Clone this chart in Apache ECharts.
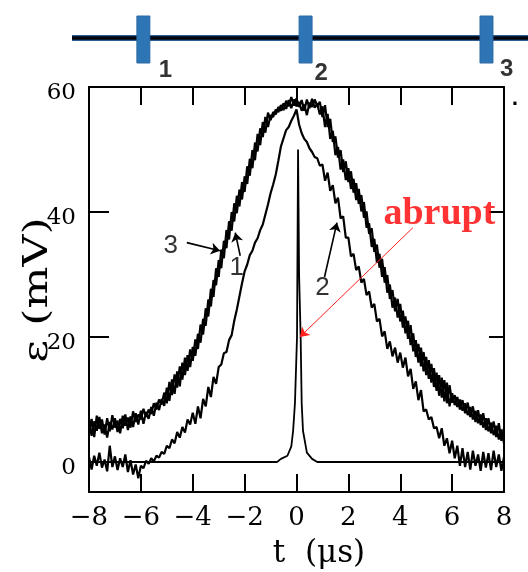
<!DOCTYPE html>
<html>
<head>
<meta charset="utf-8">
<script src="https://cdn.jsdelivr.net/npm/echarts@6.0.0/dist/echarts.min.js"></script>
<style>html,body{margin:0;padding:0;background:#fff;}#c{width:528px;height:572px;}</style>
</head>
<body>
<div id="c"></div>
<script>
// ---- data ----
const tValues = [-8,-7.9,-7.8,-7.7,-7.6,-7.5,-7.4,-7.3,-7.2,-7.1,
-7,-6.9,-6.8,-6.7,-6.6,-6.5,-6.4,-6.3,-6.2,-6.1,
-6,-5.9,-5.8,-5.7,-5.6,-5.5,-5.4,-5.3,-5.2,-5.1,
-5,-4.9,-4.8,-4.7,-4.6,-4.5,-4.4,-4.3,-4.2,-4.1,
-4,-3.9,-3.8,-3.7,-3.6,-3.5,-3.4,-3.3,-3.2,-3.1,
-3,-2.9,-2.8,-2.7,-2.6,-2.5,-2.4,-2.3,-2.2,-2.1,
-2,-1.9,-1.8,-1.7,-1.6,-1.5,-1.4,-1.3,-1.2,-1.1,
-1,-0.9,-0.8,-0.7,-0.6,-0.5,-0.4,-0.3,-0.2,-0.1,
0,0.1,0.2,0.3,0.4,0.5,0.6,0.7,0.8,0.9,
1,1.1,1.2,1.3,1.4,1.5,1.6,1.7,1.8,1.9,
2,2.1,2.2,2.3,2.4,2.5,2.6,2.7,2.8,2.9,
3,3.1,3.2,3.3,3.4,3.5,3.6,3.7,3.8,3.9,
4,4.1,4.2,4.3,4.4,4.5,4.6,4.7,4.8,4.9,
5,5.1,5.2,5.3,5.4,5.5,5.6,5.7,5.8,5.9,
6,6.1,6.2,6.3,6.4,6.5,6.6,6.7,6.8,6.9,
7,7.1,7.2,7.3,7.4,7.5,7.6,7.7,7.8,7.9,
8];

const curve3 = [6.8,4.2,6.5,5.0,7.2,4.6,6.0,3.9,6.4,5.2,
7.0,4.8,6.9,5.4,7.6,5.1,7.3,5.6,7.8,6.0,
8.2,6.1,8.0,6.9,8.8,7.4,9.5,8.3,10.1,9.0,
11.9,9.8,13.2,10.9,14.5,12.1,15.9,13.9,17.1,15.2,
18.4,17.0,20.5,19.1,22.9,21.8,26.0,24.9,29.1,28.3,
32.3,31.0,35.4,34.2,38.5,37.0,41.4,39.8,43.6,42.0,
45.7,44.5,48.5,47.0,51.1,49.7,53.4,52.0,55.2,53.6,
55.5,55.2,56.4,56.0,57.1,56.3,57.8,56.9,58.4,57.0,
58.2,56.8,57.9,56.2,58.0,56.6,58.1,56.7,57.3,55.6,
56.9,53.6,55.7,51.7,53.0,49.1,50.4,46.8,48.4,45.1,
47.0,43.7,45.3,41.9,43.7,40.1,41.6,37.5,38.2,34.4,
35.7,31.9,33.3,29.6,31.2,27.1,28.4,24.7,26.3,23.1,
25.3,21.5,23.3,19.7,21.9,17.7,19.5,15.9,18.3,14.5,
16.8,13.3,15.7,12.0,14.3,10.6,13.5,9.7,12.7,8.9,
11.0,9.1,10.4,8.4,9.9,7.8,9.5,7.2,8.9,6.4,
8.3,5.9,7.8,5.1,7.0,4.6,6.5,4.0,6.2,3.4,
5.4];

const curve1 = [4.5,6.9,4.0,7.4,5.3,6.8,4.4,7.0,4.9,7.5,
5.5,6.6,4.6,7.4,5.8,7.1,5.5,8.1,6.4,7.6,
6.8,8.5,7.2,8.4,7.7,9.4,8.4,10.0,9.2,11.1,
9.4,12.8,10.7,14.0,11.9,15.3,13.2,16.7,14.6,18.0,
16.2,19.6,18.1,22.0,20.4,24.6,23.3,27.7,26.4,31.0,
29.6,34.0,32.6,37.1,35.6,40.0,38.5,42.6,40.9,44.8,
43.2,47.3,45.8,49.9,48.3,52.5,50.7,54.4,52.7,55.9,
54.7,56.0,55.6,56.8,56.2,57.4,56.5,57.9,56.6,58.0,
56.9,57.6,56.2,57.2,55.5,57.5,56.8,58.0,57.0,57.6,
55.2,57.1,53.6,54.9,51.2,52.1,48.7,49.9,46.4,48.1,
44.8,46.5,43.1,44.6,41.3,42.7,39.1,40.1,36.5,37.4,
33.6,34.8,31.1,32.5,28.7,29.9,26.1,27.5,24.1,26.1,
22.5,24.2,20.6,22.6,18.7,20.6,16.8,18.9,15.3,17.6,
13.9,16.3,12.7,15.0,11.4,13.9,10.3,13.1,9.4,12.3,
9.5,10.7,8.8,10.0,8.2,9.4,7.5,8.8,6.8,8.2,
6.2,7.6,5.5,7.0,4.9,6.3,4.3,5.8,3.6,5.2,
3.0];

const curve2 = [0.8,-1.2,1.0,-0.6,1.5,-0.9,0.4,-1.5,2.6,-0.8,
0.9,-1.3,0.6,-0.8,1.2,-1.6,0.3,-2.0,-0.4,-2.6,
-0.6,-1.0,0.2,-0.3,0.6,0.1,1.0,0.7,1.6,1.3,
2.6,2.2,3.6,3.0,4.8,3.9,5.6,4.7,6.8,6.0,
7.9,6.1,8.9,7.0,10.1,8.9,12.0,10.4,13.6,12.5,
15.2,15.6,17.4,17.6,19.5,20.3,22.6,24.4,26.5,28.6,
30.5,31.6,33.1,33.8,35.1,35.8,37.1,38.0,39.6,41.2,
43.0,44.4,46.0,48.2,50.5,51.8,53.1,53.6,54.6,55.4,
56.4,54.0,52.6,51.7,51.2,50.2,49.6,48.8,48.6,47.4,
47.6,45.0,46.3,43.4,44.3,41.4,42.3,39.0,39.3,35.9,
35.9,32.9,33.3,30.7,31.3,28.7,29.3,26.7,27.3,24.7,
25.3,22.5,22.9,20.1,20.9,18.1,19.3,16.9,18.3,15.9,
17.5,15.1,16.7,13.7,14.9,11.7,12.9,9.9,11.5,8.1,
8.4,6.8,7.2,5.4,5.6,3.8,5.4,2.6,3.8,1.4,
3.4,0.6,2.6,-0.6,2.2,-0.8,1.6,-1.2,1.8,-0.6,
1.2,-1.4,1.6,-0.9,1.4,-1.3,1.8,-0.8,1.2,-1.4,
0.8];

const spikeT = [-8,-0.75,-0.6,-0.35,-0.2,-0.13,-0.06,0.02,0.06,0.1,0.16,0.2,0.25,0.4,0.6,0.8,8];
const spikeV = [0,0,0.5,1.0,2.5,5,9.4,20,50,30,20,9.4,5,1.5,0.5,0,0];

const yTicks = [0,20,40,60];

// curve labels and arrows
const annoText = ['3','1','2'];
const annoT = [-4.85,-2.3,1.0];
const annoV = [34.6,31.1,27.9];
const arrowFrom = [[-4.23,35.1],[-2.17,33.0],[1.08,29.6]];
const arrowTo = [[-2.95,33.8],[-2.36,36.7],[1.56,38.3]];
const abruptText = 'abrupt';
const abruptPos = [5.51,39.7];
const abruptFrom = [4.49,37.5];
const abruptTo = [0.13,20.0];

// schematic at the top (same t scale as the plot)
const probeT = [-5.9,0.35,7.32];
const probeNames = ['1','2','3'];
const probeLabelT = [-5.05,0.95,8.1];
const probeLabelY = [-0.15,-0.23,-0.13];
const busT = [-8.65,8.92];
const busY = 0.53;

// ---- chart ----
const chart = echarts.init(document.getElementById('c'), null, {renderer:'canvas'});
const serif = '"DejaVu Serif", "Liberation Serif", serif';
const lserif = '"Liberation Serif", "DejaVu Serif", serif';
const sans = '"Liberation Sans", "DejaVu Sans", sans-serif';
const pairs = arr => tValues.map((t,i)=>[t, arr[i]]);
const fmtX = v => v < 0 ? '\u2212' + (-v) : String(v);
const curveW = 2.2;

const option = {
  animation: false,
  backgroundColor: '#fff',
  textStyle: {fontFamily: serif},
  grid: [
    {left: 89, right: 24, top: 87, bottom: 80},
    {left: 72, right: 0, top: 16, height: 70.5}
  ],
  xAxis: [
    {gridIndex:0, type:'value', min:-8, max:8, interval:2, position:'bottom',
     axisLine:{show:true, onZero:false, lineStyle:{color:'#000', width:2}},
     axisTick:{show:true, inside:true, length:18, lineStyle:{color:'#000', width:2}},
     axisLabel:{show:true, fontSize:26, fontFamily:serif, color:'#000', margin:13, formatter:fmtX},
     splitLine:{show:false}},
    {gridIndex:0, type:'value', min:-8, max:8, interval:2, position:'top',
     axisLine:{show:true, onZero:false, lineStyle:{color:'#000', width:2}},
     axisTick:{show:true, inside:true, length:18, lineStyle:{color:'#000', width:2}},
     axisLabel:{show:false}, splitLine:{show:false}},
    {gridIndex:1, type:'value', min:-8.65, max:8.92, show:false}
  ],
  yAxis: [
    {gridIndex:0, type:'value', min:-4.8, max:60, position:'left',
     axisLine:{show:true, onZero:false, lineStyle:{color:'#000', width:2}},
     axisTick:{show:true, inside:true, length:20, customValues:yTicks, lineStyle:{color:'#000', width:2}},
     axisLabel:{show:true, customValues:yTicks, margin:13, formatter: v => '{a|' + v + '}',
       rich:{a:{fontSize:23, fontFamily:serif, color:'#000', padding:[12,0,0,0]}}},
     splitLine:{show:false}},
    {gridIndex:0, type:'value', min:-4.8, max:60, position:'right',
     axisLine:{show:true, onZero:false, lineStyle:{color:'#000', width:2}},
     axisTick:{show:true, inside:true, length:15, customValues:yTicks, lineStyle:{color:'#000', width:2}},
     axisLabel:{show:false}, splitLine:{show:false}},
    {gridIndex:1, type:'value', min:-0.5, max:1, show:false}
  ],
  series: [
    {type:'line', xAxisIndex:0, yAxisIndex:0, data: spikeT.map((t,i)=>[t, spikeV[i]]),
     symbol:'none', lineStyle:{color:'#000', width:1.8}, z:3,
     markLine:{silent:true, symbol:['none','arrow'], symbolSize:9, label:{show:false},
       data: arrowFrom.map((f,i)=>[{coord:f, lineStyle:{color:'#000', width:1.6, type:'solid'}}, {coord:arrowTo[i]}])
         .concat([[{coord:abruptFrom, lineStyle:{color:'#ff2020', width:1, type:'solid'}, symbolSize:8}, {coord:abruptTo}]])
     }},
    {type:'line', xAxisIndex:0, yAxisIndex:0, data: pairs(curve3), symbol:'none', lineStyle:{color:'#000', width:curveW}, z:4},
    {type:'line', xAxisIndex:0, yAxisIndex:0, data: pairs(curve1), symbol:'none', lineStyle:{color:'#000', width:curveW}, z:4},
    {type:'line', xAxisIndex:0, yAxisIndex:0, data: pairs(curve2), symbol:'none', lineStyle:{color:'#000', width:curveW}, z:4},
    {type:'scatter', xAxisIndex:0, yAxisIndex:0, symbolSize:1, itemStyle:{color:'transparent'}, z:6,
     data: annoT.map((t,i)=>({value:[t, annoV[i]], name:annoText[i]})),
     label:{show:true, position:'inside', formatter:p=>p.name, color:'#000', fontFamily:sans, fontSize:26}},
    {type:'scatter', xAxisIndex:0, yAxisIndex:0, symbolSize:1, itemStyle:{color:'transparent'}, z:6,
     data: [{value:abruptPos, name:abruptText}],
     label:{show:true, position:'inside', formatter:p=>p.name, color:'#ff0000', fontFamily:lserif, fontWeight:'bold', fontSize:38}},
    // schematic
    {type:'line', xAxisIndex:2, yAxisIndex:2, data: busT.map(t=>[t, busY]), symbol:'none',
     lineStyle:{color:'#2b5f8f', width:6}, z:2},
    {type:'line', xAxisIndex:2, yAxisIndex:2, data: busT.map(t=>[t, busY]), symbol:'none',
     lineStyle:{color:'#050510', width:3.5}, z:3},
    {type:'custom', xAxisIndex:2, yAxisIndex:2, z:5,
     data: probeT.map((t,i)=>[t, i]),
     renderItem:(params, api)=>{
       const b = api.coord([api.value(0), 0]);
       const tp = api.coord([api.value(0), 1]);
       const w = api.size([0.5, 0])[0];
       return {type:'rect', shape:{x:b[0]-w/2, y:tp[1], width:w, height:b[1]-tp[1]},
               style:{fill:'#2e75b6', stroke:'#2a6aa6', lineWidth:1}};
     }},
    {type:'scatter', xAxisIndex:2, yAxisIndex:2, symbolSize:1, itemStyle:{color:'transparent'}, z:6,
     data: probeLabelT.map((t,i)=>({value:[t, probeLabelY[i]], name:probeNames[i]})),
     label:{show:true, position:'inside', formatter:p=>p.name, color:'#000', fontFamily:sans, fontWeight:'bold', fontSize:24}}
  ],
  graphic: [
    {type:'text', x:38, y:290, rotation:Math.PI/2, scaleX:1.3, z:10,
     style:{text:'\u03b5 (mV)', font:'34px "DejaVu Serif"', fill:'#000', align:'center', verticalAlign:'middle'}},
    {type:'text', x:319, y:554, z:10,
     style:{text:'t  (\u03bcs)', font:'31px "DejaVu Serif"', fill:'#000', align:'center', verticalAlign:'middle'}},
    {type:'text', x:515, y:100, z:10,
     style:{text:'.', font:'bold 18px "DejaVu Sans"', fill:'#000', align:'center', verticalAlign:'middle'}}
  ]
};
chart.setOption(option);
</script>
</body>
</html>
